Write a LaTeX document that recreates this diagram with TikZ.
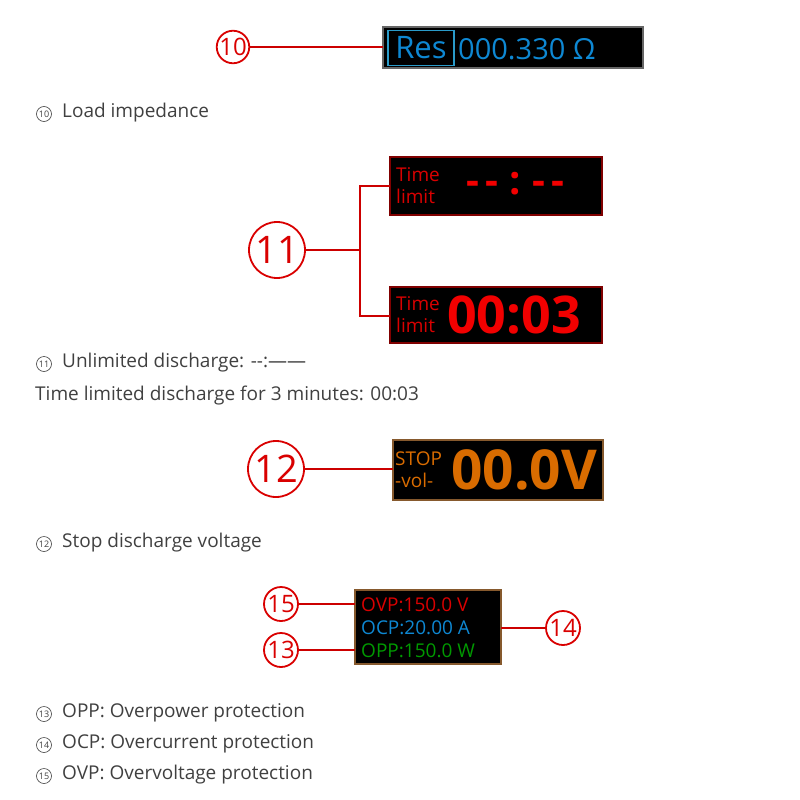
\documentclass[tikz,border=0pt]{standalone}
\usepackage{fontspec}
\setmainfont{Open Sans}
\begin{document}
\begin{tikzpicture}[x=1pt,y=-1pt,
  callout/.style={circle,draw=red!85!black,line width=1.8pt,text=red!85!black,inner sep=0pt},
  lead/.style={draw=red!80!black,line width=1.2pt},
  screen/.style={fill=black,draw=#1,line width=1.2pt},
  captxt/.style={text=black!75,font=\fontsize{19}{20}\selectfont,anchor=west,inner sep=0pt},
  cnum/.style={circle,draw=black!75,line width=0.6pt,inner sep=0pt,minimum size=15pt,text=black!75,font=\fontsize{9}{9}\selectfont}]
\useasboundingbox (0,0) rectangle (800,800);
% 10
\node[callout,minimum size=32pt,font=\fontsize{24}{24}\selectfont] (c10) at (233,47) {10};
\draw[screen=black!60] (383,27) rectangle (643,68);
\node[draw=cyan!60!teal,line width=1.2pt,text=cyan!70!blue,font=\fontsize{31}{31}\selectfont,inner sep=0pt,minimum width=66pt,minimum height=35pt] (res) at (421,48) {Res};
\node[text=cyan!70!blue,font=\fontsize{29}{29}\selectfont,anchor=west,inner sep=0pt] (rv) at (458,49) {000.330 Ω};
\coordinate (b10) at (383,47);
\draw[lead] (c10) -- (b10);
\node[cnum] (n10) at (44,114) {10};
\node[captxt] (t10) at (62,113) {Load impedance};
% 11
\draw[screen=red!50!black] (390,157) rectangle (602,215);
\node[text=red!85!black,font=\fontsize{19}{22}\selectfont,align=left,anchor=west,inner sep=0pt] (tl1) at (396,186) {Time\\limit};
\node[text=red!95!black,font=\bfseries\fontsize{40}{40}\selectfont,anchor=west,inner sep=0pt] (d1) at (466,184) {{-}\,{-}\;:\;{-}\,{-}};
\draw[screen=red!50!black] (390,287) rectangle (602,343);
\node[text=red!85!black,font=\fontsize{19}{22}\selectfont,align=left,anchor=west,inner sep=0pt] (tl2) at (396,315) {Time\\limit};
\node[text=red!95!black,font=\bfseries\fontsize{52}{52}\selectfont,anchor=west,inner sep=0pt] (d2) at (447,315) {00:03};
\node[callout,minimum size=56pt,font=\fontsize{38}{38}\selectfont] (c11) at (277,250) {11};
\coordinate (j11) at (360,250);
\coordinate (b11a) at (390,186);
\coordinate (b11b) at (390,316);
\draw[lead] (c11) -- (j11);
\draw[lead] (b11a) -| (j11) |- (b11b);
\node[cnum] (n11) at (44,364) {11};
\node[captxt] (t11) at (62,363) {Unlimited discharge: {-}{-}:——};
\node[captxt] (t11b) at (35,396) {Time limited discharge for 3 minutes: 00:03};
% 12
\draw[screen=brown!70!black] (393,440) rectangle (603,500);
\node[text=orange!85!black,font=\fontsize{19}{22}\selectfont,align=left,anchor=west,inner sep=0pt] (sv) at (395,470) {STOP\\-vol-};
\node[text=orange!85!black,font=\bfseries\fontsize{55}{55}\selectfont,anchor=west,inner sep=0pt] (d3) at (451,470) {00.0V};
\node[callout,minimum size=56pt,font=\fontsize{38}{38}\selectfont] (c12) at (276,469) {12};
\coordinate (b12) at (393,469);
\draw[lead] (c12) -- (b12);
\node[cnum] (n12) at (44,544) {12};
\node[captxt] (t12) at (62,543) {Stop discharge voltage};
% 13-15
\draw[screen=brown!70!black] (355,590) rectangle (501,664);
\node[text=red!85!black,font=\fontsize{19}{20}\selectfont,anchor=west,inner sep=0pt] (ovp) at (361,605) {OVP:150.0 V};
\node[text=cyan!70!blue,font=\fontsize{19}{20}\selectfont,anchor=west,inner sep=0pt] (ocp) at (361,628) {OCP:20.00 A};
\node[text=green!60!black,font=\fontsize{19}{20}\selectfont,anchor=west,inner sep=0pt] (opp) at (361,651) {OPP:150.0 W};
\node[callout,minimum size=34pt,font=\fontsize{24}{24}\selectfont] (c15) at (281,604) {15};
\node[callout,minimum size=34pt,font=\fontsize{24}{24}\selectfont] (c13) at (281,650) {13};
\node[callout,minimum size=34pt,font=\fontsize{24}{24}\selectfont] (c14) at (563,628) {14};
\coordinate (b15) at (355,604);
\coordinate (b13) at (355,650);
\coordinate (b14) at (501,628);
\draw[lead] (c15) -- (b15);
\draw[lead] (c13) -- (b13);
\draw[lead] (c14) -- (b14);
\node[cnum] (n13) at (44,714) {13};
\node[captxt] (t13) at (62,713) {OPP: Overpower protection};
\node[cnum] (n14) at (44,745) {14};
\node[captxt] (t14) at (62,744) {OCP: Overcurrent protection};
\node[cnum] (n15) at (44,776) {15};
\node[captxt] (t15) at (62,775) {OVP: Overvoltage protection};
\end{tikzpicture}
\end{document}
